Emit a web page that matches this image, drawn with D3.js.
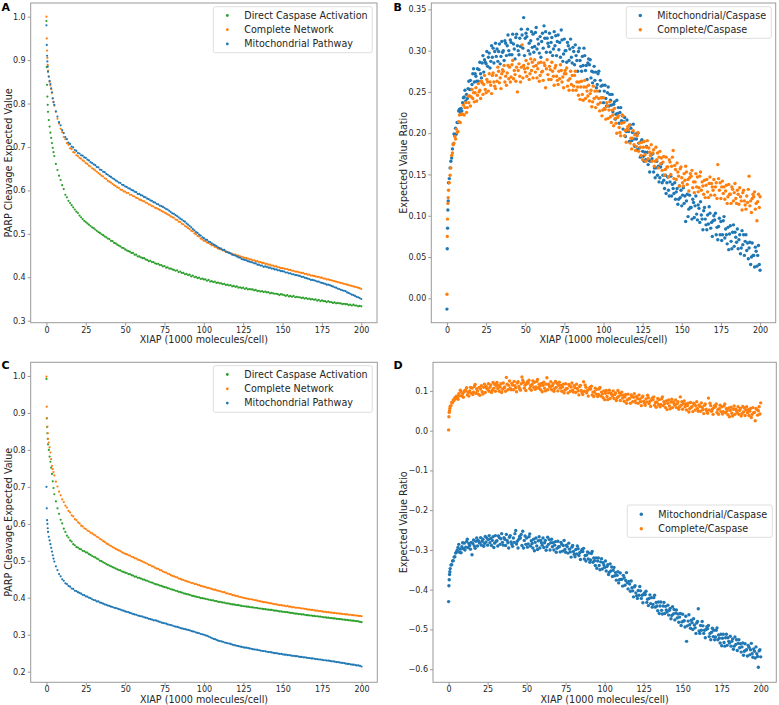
<!DOCTYPE html>
<html>
<head>
<meta charset="utf-8">
<script src="https://cdn.jsdelivr.net/npm/d3@7"></script>
<style>
  html, body { margin: 0; padding: 0; background: #fff; }
  svg { display: block; font-family: "DejaVu Sans", sans-serif; }
</style>
</head>
<body>
<svg id="chart" width="779" height="705"></svg>
<script>
// ---------------- DATA ----------------
// x grid (XIAP, 1000 molecules/cell) for panels A and C
const xsAC = [0,0.2,0.4,0.6,0.8,1,1.5,2,2.5,3,3.5,4,4.5].concat(d3.range(5, 201, 1));
// finer x grid for the noisier ratio panels B and D
const xsBD = [0,0.2,0.4,0.6,0.8].concat(d3.range(1, 200.25, 0.5));
const xTicks = [0,25,50,75,100,125,150,175,200];
const yTicksA = [0.3,0.4,0.5,0.6,0.7,0.8,0.9,1.0];
const yTicksB = [0.00,0.05,0.10,0.15,0.20,0.25,0.30,0.35];
const yTicksC = [0.2,0.3,0.4,0.5,0.6,0.7,0.8,0.9,1.0];
const yTicksD = [-0.6,-0.5,-0.4,-0.3,-0.2,-0.1,0.0,0.1];

const seriesNamesAC = ["Direct Caspase Activation","Complete Network","Mitochondrial Pathway"];
const seriesNamesBD = ["Mitochondrial/Caspase","Complete/Caspase"];

// Panel A
const directA = [.990,.884,.843,.816,.797,.781,.762,.747,.733,.721,.709,.698,.688,
.679,.661,.647,.634,.624,
.612,.603,.590,.584,.576,.571,.566,.561,.556,.551,
.548,.542,.538,.534,.530,.527,.524,.521,.518,.515,
.513,.510,.507,.504,.502,.499,.497,.494,.492,.489,
.488,.484,.483,.479,.478,.475,.473,.471,.468,.467,
.464,.462,.460,.459,.456,.456,.452,.452,.448,.448,
.446,.444,.444,.441,.440,.437,.438,.435,.435,.432,
.431,.431,.428,.428,.425,.426,.422,.423,.420,.420,
.418,.417,.415,.416,.412,.413,.410,.410,.407,.408,
.405,.406,.402,.404,.400,.401,.398,.399,.396,.397,
.395,.395,.392,.394,.390,.391,.389,.390,.387,.388,
.386,.386,.384,.385,.382,.383,.381,.382,.379,.380,
.378,.379,.376,.377,.375,.376,.373,.375,.372,.373,
.372,.372,.370,.371,.368,.369,.367,.368,.366,.367,
.365,.366,.363,.364,.363,.362,.362,.361,.359,.361,
.360,.359,.357,.359,.356,.357,.355,.357,.354,.355,
.354,.354,.352,.353,.351,.352,.350,.351,.349,.350,
.348,.349,.346,.348,.345,.347,.345,.345,.343,.345,
.343,.343,.341,.342,.340,.341,.340,.340,.338,.339,
.338,.338,.336,.337,.335,.337,.335,.335,.333,.334,
.333];
const completeA = [1.000,.950,.922,.905,.889,.876,.862,.850,.842,.833,.824,.812,.804,
.795,.781,.765,.754,.742,
.734,.723,.718,.709,.705,.697,.695,.688,.687,.681,
.679,.675,.673,.669,.667,.663,.661,.657,.655,.651,
.649,.646,.643,.640,.637,.634,.632,.628,.626,.622,
.620,.618,.615,.612,.610,.607,.606,.602,.601,.598,
.597,.594,.594,.590,.590,.587,.586,.583,.582,.579,
.578,.576,.575,.572,.571,.568,.567,.564,.563,.560,
.559,.557,.555,.553,.551,.549,.547,.545,.543,.540,
.538,.537,.533,.532,.528,.527,.523,.522,.518,.516,
.513,.511,.507,.506,.501,.499,.495,.494,.489,.487,
.484,.483,.480,.479,.476,.474,.473,.470,.469,.466,
.465,.464,.462,.461,.459,.458,.457,.455,.454,.452,
.452,.450,.450,.448,.447,.446,.445,.444,.443,.441,
.441,.439,.439,.437,.437,.435,.435,.433,.433,.431,
.431,.429,.429,.427,.427,.425,.425,.423,.423,.421,
.421,.420,.419,.419,.417,.417,.415,.415,.413,.413,
.412,.411,.410,.410,.408,.408,.406,.406,.404,.404,
.403,.402,.401,.401,.399,.399,.397,.397,.395,.395,
.394,.393,.392,.391,.390,.389,.388,.387,.386,.385,
.384,.383,.382,.381,.380,.379,.378,.377,.376,.375,
.373];
const mitoA = [.980,.935,.910,.897,.885,.873,.862,.852,.845,.835,.826,.812,.803,
.797,.782,.770,.757,.750,
.739,.732,.723,.718,.710,.707,.701,.699,.693,.691,
.686,.685,.681,.680,.676,.675,.671,.669,.665,.663,
.660,.658,.654,.653,.648,.647,.643,.642,.638,.636,
.633,.631,.628,.626,.623,.621,.618,.617,.613,.612,
.609,.608,.605,.604,.601,.600,.597,.596,.592,.592,
.589,.588,.585,.584,.581,.580,.577,.576,.573,.572,
.569,.568,.565,.564,.562,.560,.557,.556,.553,.550,
.547,.546,.543,.541,.538,.535,.533,.530,.528,.524,
.521,.518,.515,.511,.508,.504,.502,.498,.496,.492,
.490,.487,.486,.482,.481,.478,.476,.474,.472,.469,
.467,.466,.463,.463,.459,.458,.456,.455,.452,.451,
.450,.448,.446,.445,.442,.441,.440,.439,.437,.436,
.435,.434,.432,.432,.429,.429,.427,.427,.424,.425,
.424,.422,.422,.420,.420,.418,.418,.416,.416,.414,
.414,.413,.411,.411,.409,.409,.407,.407,.405,.405,
.404,.403,.401,.401,.399,.398,.397,.396,.394,.394,
.393,.392,.390,.390,.388,.387,.386,.385,.383,.383,
.382,.380,.379,.377,.376,.374,.373,.371,.370,.369,
.368,.365,.364,.362,.360,.359,.357,.355,.354,.352,
.350];

// Panel B (on xsBD)
const mitoB = [-.013,.060,.085,.107,.118,
.140,.145,.158,.166,.170,.181,.187,.199,.197,.206,
.199,.213,.213,.227,.229,.225,.230,.227,.237,.243,
.244,.252,.239,.247,.242,.254,.263,.253,.264,.253,
.259,.272,.278,.262,.272,.269,.263,.278,.263,.277,
.286,.272,.267,.285,.294,.274,.289,.286,.284,.299,
.281,.292,.297,.279,.287,.306,.292,.303,.285,.299,
.309,.293,.302,.287,.299,.308,.284,.293,.311,.298,
.300,.288,.312,.309,.294,.306,.319,.300,.295,.313,
.310,.295,.320,.308,.302,.290,.316,.320,.306,.300,
.295,.315,.305,.326,.319,.303,.340,.294,.315,.321,
.317,.326,.300,.309,.296,.312,.323,.304,.320,.298,
.305,.322,.328,.302,.314,.308,.297,.317,.292,.311,
.321,.303,.330,.315,.323,.298,.315,.309,.305,.321,
.298,.310,.316,.294,.302,.323,.306,.318,.294,.311,
.319,.301,.310,.292,.325,.313,.287,.296,.314,.300,
.300,.286,.310,.306,.288,.302,.314,.292,.285,.304,
.299,.283,.307,.294,.288,.275,.299,.303,.288,.281,
.275,.293,.282,.303,.294,.276,.282,.265,.285,.290,
.283,.289,.267,.275,.261,.274,.281,.264,.274,.255,
.259,.272,.275,.251,.264,.257,.243,.258,.237,.251,
.258,.242,.233,.249,.256,.233,.247,.240,.234,.247,
.226,.235,.238,.217,.223,.240,.224,.231,.212,.225,
.231,.215,.221,.205,.214,.219,.196,.202,.216,.203,
.202,.190,.210,.206,.191,.201,.211,.193,.184,.199,
.193,.180,.200,.188,.182,.171,.190,.192,.178,.172,
.166,.177,.168,.184,.177,.162,.167,.153,.166,.174,
.169,.175,.153,.158,.146,.158,.166,.149,.160,.141,
.146,.159,.163,.140,.149,.143,.133,.149,.127,.140,
.147,.131,.124,.141,.148,.124,.138,.133,.127,.140,
.120,.129,.133,.114,.120,.136,.122,.131,.112,.125,
.134,.115,.124,.093,.118,.126,.099,.108,.125,.110,
.110,.096,.120,.116,.098,.112,.124,.102,.095,.113,
.109,.092,.117,.101,.096,.083,.106,.110,.096,.089,
.083,.101,.090,.111,.103,.085,.092,.075,.094,.100,
.095,.103,.077,.086,.071,.087,.097,.077,.093,.070,
.077,.094,.099,.073,.084,.077,.066,.086,.059,.078,
.088,.069,.060,.080,.089,.063,.080,.074,.068,.084,
.060,.071,.077,.054,.061,.082,.065,.077,.052,.069,
.077,.058,.067,.048,.061,.068,.041,.050,.067,.052,
.052,.038,.062,.057,.039,.052,.064,.041,.034];
const completeB = [.005,.075,.096,.115,.122,
.131,.140,.149,.158,.173,.176,.186,.188,.196,.193,
.205,.201,.202,.214,.222,.213,.223,.223,.223,.234,
.222,.231,.237,.225,.231,.245,.237,.245,.233,.244,
.253,.242,.249,.238,.249,.255,.239,.246,.260,.250,
.252,.242,.263,.261,.247,.259,.270,.253,.249,.265,
.262,.251,.272,.262,.258,.248,.270,.273,.262,.257,
.254,.270,.263,.280,.275,.261,.267,.254,.272,.277,
.275,.282,.262,.269,.258,.273,.282,.266,.280,.262,
.268,.283,.288,.266,.276,.271,.263,.280,.250,.276,
.284,.269,.262,.280,.307,.267,.282,.278,.274,.288,
.269,.279,.284,.265,.272,.290,.276,.286,.267,.281,
.289,.274,.282,.267,.278,.285,.263,.270,.286,.274,
.275,.264,.285,.282,.255,.278,.289,.271,.265,.281,
.277,.265,.286,.275,.269,.258,.279,.282,.269,.264,
.259,.275,.266,.283,.276,.262,.268,.255,.272,.276,
.272,.279,.257,.264,.252,.266,.275,.259,.270,.252,
.257,.270,.275,.252,.262,.256,.246,.262,.241,.256,
.263,.247,.240,.256,.264,.242,.256,.251,.245,.258,
.239,.248,.252,.232,.238,.257,.242,.251,.231,.244,
.251,.235,.242,.227,.237,.243,.221,.228,.243,.230,
.229,.217,.237,.233,.218,.228,.238,.220,.213,.228,
.222,.209,.230,.218,.212,.200,.219,.221,.207,.201,
.197,.212,.222,.221,.213,.197,.203,.189,.205,.208,
.204,.210,.188,.194,.181,.194,.203,.186,.198,.179,
.184,.197,.201,.178,.188,.183,.173,.189,.168,.183,
.190,.174,.166,.183,.191,.169,.182,.177,.173,.186,
.166,.176,.180,.160,.166,.183,.168,.176,.158,.171,
.178,.163,.170,.155,.165,.172,.149,.156,.171,.159,
.159,.147,.168,.165,.150,.160,.171,.179,.145,.161,
.156,.144,.164,.153,.148,.136,.157,.159,.146,.140,
.136,.151,.143,.160,.153,.138,.144,.130,.146,.151,
.148,.155,.134,.141,.128,.141,.151,.135,.147,.129,
.134,.148,.153,.131,.141,.136,.126,.143,.122,.137,
.144,.129,.122,.139,.147,.125,.139,.135,.131,.144,
.125,.135,.140,.121,.162,.145,.131,.140,.121,.135,
.142,.127,.135,.120,.130,.137,.115,.123,.138,.126,
.126,.115,.135,.132,.118,.128,.139,.121,.115,.131,
.126,.114,.134,.123,.118,.107,.128,.131,.118,.113,
.108,.124,.116,.132,.148,.112,.118,.104,.121,.126,
.123,.129,.108,.115,.094,.117,.126,.110,.123];

// Panel C
const directC = [.992,.885,.862,.845,.830,.815,.800,.782,.768,.752,.735,.715,.697,
.680,.661,.642,.627,.611,
.601,.587,.578,.568,.563,.555,.552,.545,.542,.537,
.536,.532,.531,.527,.526,.523,.522,.518,.516,.513,
.511,.509,.506,.504,.500,.499,.496,.494,.491,.489,
.487,.485,.483,.481,.479,.477,.475,.474,.471,.470,
.468,.467,.464,.464,.461,.460,.457,.457,.454,.454,
.452,.450,.449,.447,.446,.444,.442,.441,.439,.437,
.436,.435,.433,.432,.430,.429,.428,.426,.425,.423,
.422,.421,.419,.418,.416,.415,.414,.412,.411,.410,
.409,.408,.406,.405,.404,.403,.402,.401,.399,.399,
.398,.397,.396,.395,.394,.393,.393,.391,.391,.389,
.389,.388,.387,.387,.385,.385,.384,.383,.382,.382,
.381,.380,.380,.379,.378,.377,.377,.376,.376,.375,
.374,.374,.373,.373,.372,.371,.371,.370,.369,.369,
.368,.368,.367,.367,.366,.365,.365,.364,.363,.363,
.362,.362,.361,.361,.360,.359,.359,.358,.357,.357,
.356,.356,.355,.355,.354,.353,.353,.352,.352,.351,
.351,.350,.350,.349,.349,.348,.347,.347,.346,.346,
.345,.345,.344,.344,.343,.343,.342,.342,.341,.341,
.340,.340,.339,.339,.338,.338,.337,.337,.336,.335,
.334];
const completeC = [.998,.917,.886,.863,.845,.830,.820,.807,.793,.775,.757,.748,.740,
.731,.714,.701,.687,.677,
.666,.659,.649,.644,.635,.631,.623,.620,.613,.610,
.604,.601,.595,.593,.588,.586,.582,.580,.576,.574,
.571,.569,.565,.563,.559,.557,.553,.551,.547,.545,
.542,.540,.537,.535,.532,.530,.528,.526,.523,.521,
.519,.518,.515,.514,.511,.510,.507,.506,.503,.502,
.500,.498,.496,.494,.492,.489,.488,.485,.484,.481,
.479,.478,.475,.474,.471,.469,.468,.465,.464,.461,
.459,.458,.456,.455,.452,.451,.449,.448,.446,.445,
.443,.442,.440,.440,.437,.437,.435,.434,.432,.431,
.430,.429,.427,.427,.425,.424,.422,.422,.420,.419,
.418,.417,.415,.415,.412,.412,.410,.410,.407,.407,
.405,.405,.403,.402,.401,.400,.399,.398,.397,.396,
.396,.395,.394,.393,.392,.391,.390,.389,.388,.388,
.387,.386,.385,.385,.383,.383,.382,.381,.380,.380,
.379,.379,.377,.378,.376,.376,.374,.375,.373,.373,
.373,.372,.371,.371,.370,.369,.368,.368,.367,.367,
.366,.365,.365,.364,.364,.363,.362,.362,.361,.361,
.360,.360,.359,.359,.358,.358,.357,.357,.356,.356,
.355,.355,.354,.354,.353,.353,.352,.352,.351,.351,
.350];
const mitoC = [.700,.642,.610,.600,.588,.578,.565,.555,.545,.535,.525,.515,.506,
.498,.485,.475,.464,.458,
.450,.446,.439,.437,.432,.430,.425,.424,.419,.418,
.415,.413,.411,.408,.407,.404,.403,.400,.399,.396,
.394,.393,.390,.390,.387,.386,.384,.382,.381,.379,
.378,.376,.375,.373,.372,.371,.369,.368,.366,.365,
.363,.362,.361,.359,.358,.356,.355,.354,.352,.351,
.350,.349,.347,.346,.345,.343,.342,.341,.339,.339,
.338,.336,.335,.333,.332,.331,.330,.328,.327,.326,
.325,.323,.322,.321,.320,.318,.317,.316,.315,.314,
.313,.312,.310,.309,.308,.306,.305,.304,.302,.301,
.300,.298,.297,.295,.293,.291,.289,.288,.286,.284,
.283,.282,.281,.279,.278,.277,.276,.275,.273,.272,
.271,.270,.269,.268,.267,.266,.265,.265,.264,.263,
.262,.261,.260,.260,.259,.258,.257,.256,.256,.255,
.254,.253,.253,.252,.251,.250,.250,.249,.248,.248,
.247,.246,.246,.245,.245,.244,.243,.243,.242,.242,
.241,.240,.240,.239,.239,.238,.237,.237,.236,.236,
.235,.234,.234,.233,.233,.232,.231,.231,.230,.230,
.229,.228,.228,.227,.226,.226,.225,.224,.224,.223,
.222,.221,.221,.220,.219,.219,.218,.217,.217,.216,
.214];

// Panel D (on xsBD)
const mitoD = [-.430,-.390,-.375,-.362,-.355,
-.347,-.338,-.337,-.328,-.327,-.318,-.317,-.308,-.306,-.301,
-.294,-.286,-.306,-.298,-.307,-.292,-.282,-.297,-.283,-.300,
-.293,-.279,-.273,-.294,-.284,-.289,-.298,-.281,-.312,-.284,
-.275,-.290,-.296,-.278,-.270,-.290,-.276,-.280,-.283,-.269,
-.288,-.278,-.273,-.291,-.284,-.266,-.280,-.270,-.288,-.274,
-.264,-.282,-.271,-.289,-.276,-.267,-.294,-.283,-.264,-.278,
-.277,-.290,-.265,-.269,-.286,-.272,-.259,-.281,-.288,-.269,
-.273,-.289,-.261,-.276,-.282,-.295,-.268,-.264,-.280,-.286,
-.291,-.270,-.281,-.259,-.251,-.285,-.278,-.295,-.273,-.266,
-.270,-.261,-.289,-.253,-.295,-.276,-.265,-.286,-.270,-.293,
-.285,-.267,-.260,-.290,-.277,-.284,-.295,-.273,-.302,-.281,
-.270,-.290,-.299,-.277,-.267,-.295,-.276,-.282,-.288,-.270,
-.294,-.282,-.276,-.301,-.292,-.268,-.286,-.274,-.300,-.282,
-.273,-.292,-.282,-.300,-.288,-.279,-.306,-.296,-.278,-.292,
-.292,-.305,-.281,-.286,-.303,-.289,-.276,-.299,-.306,-.288,
-.292,-.308,-.283,-.298,-.305,-.318,-.293,-.289,-.304,-.311,
-.317,-.299,-.310,-.290,-.297,-.314,-.307,-.324,-.304,-.299,
-.304,-.296,-.323,-.314,-.328,-.313,-.305,-.323,-.308,-.331,
-.325,-.309,-.304,-.331,-.320,-.327,-.339,-.320,-.346,-.328,
-.320,-.339,-.350,-.330,-.322,-.348,-.332,-.338,-.344,-.328,
-.353,-.342,-.337,-.362,-.356,-.335,-.353,-.343,-.367,-.351,
-.344,-.365,-.357,-.376,-.364,-.355,-.383,-.375,-.358,-.374,
-.374,-.391,-.364,-.370,-.389,-.377,-.357,-.383,-.398,-.379,
-.386,-.404,-.378,-.395,-.403,-.418,-.393,-.390,-.408,-.415,
-.422,-.402,-.414,-.392,-.403,-.422,-.414,-.433,-.412,-.408,
-.412,-.404,-.432,-.424,-.440,-.422,-.413,-.435,-.420,-.444,
-.437,-.420,-.414,-.444,-.432,-.441,-.453,-.431,-.460,-.441,
-.431,-.452,-.461,-.441,-.432,-.460,-.442,-.451,-.456,-.439,
-.464,-.452,-.447,-.473,-.465,-.443,-.461,-.450,-.476,-.459,
-.451,-.471,-.461,-.482,-.469,-.460,-.490,-.481,-.462,-.479,
-.478,-.494,-.467,-.530,-.491,-.479,-.463,-.488,-.497,-.477,
-.483,-.500,-.473,-.489,-.496,-.510,-.484,-.480,-.448,-.504,
-.510,-.490,-.502,-.480,-.491,-.510,-.502,-.521,-.500,-.493,
-.498,-.490,-.518,-.510,-.526,-.507,-.497,-.518,-.502,-.526,
-.519,-.502,-.496,-.526,-.514,-.522,-.534,-.512,-.541,-.522,
-.512,-.533,-.542,-.521,-.512,-.540,-.521,-.530,-.534,-.517,
-.542,-.530,-.524,-.550,-.542,-.519,-.538,-.526,-.553,-.535,
-.526,-.546,-.536,-.557,-.544,-.534,-.565,-.555,-.536,-.552,
-.551,-.567,-.540,-.545,-.564,-.551,-.535,-.561,-.570,-.549,
-.555,-.572,-.544,-.561,-.568,-.595,-.554,-.551,-.569];
const completeD = [.002,.035,.046,.050,.056,
.061,.063,.071,.070,.077,.076,.083,.081,.087,.084,
.079,.093,.088,.102,.098,.087,.093,.084,.098,.102,
.101,.108,.090,.096,.087,.100,.109,.094,.107,.091,
.097,.111,.116,.094,.105,.100,.092,.109,.089,.105,
.113,.098,.092,.109,.117,.096,.111,.107,.104,.118,
.099,.109,.115,.096,.102,.121,.107,.117,.099,.113,
.121,.106,.114,.099,.110,.118,.096,.104,.120,.108,
.110,.099,.134,.117,.103,.114,.125,.107,.103,.119,
.115,.103,.124,.113,.108,.098,.120,.123,.111,.106,
.102,.118,.135,.127,.121,.107,.114,.101,.118,.123,
.120,.127,.106,.113,.102,.116,.125,.109,.122,.104,
.110,.124,.129,.107,.117,.112,.103,.119,.098,.114,
.122,.107,.100,.117,.133,.103,.117,.113,.109,.123,
.103,.113,.118,.099,.106,.124,.109,.119,.100,.114,
.122,.107,.114,.099,.110,.117,.095,.102,.118,.106,
.106,.095,.116,.113,.099,.110,.120,.102,.097,.113,
.108,.096,.117,.106,.100,.090,.111,.114,.101,.096,
.091,.123,.099,.115,.109,.095,.101,.087,.104,.109,
.105,.112,.090,.097,.086,.098,.107,.092,.104,.086,
.091,.105,.109,.087,.097,.092,.083,.100,.078,.094,
.101,.086,.078,.095,.102,.081,.095,.091,.087,.100,
.081,.091,.095,.076,.083,.101,.086,.095,.076,.090,
.097,.082,.089,.074,.085,.091,.069,.077,.092,.080,
.081,.069,.090,.086,.073,.084,.093,.075,.070,.086,
.081,.069,.090,.079,.073,.063,.084,.087,.074,.069,
.064,.080,.072,.089,.083,.068,.074,.061,.077,.082,
.078,.085,.064,.071,.059,.072,.081,.066,.078,.060,
.066,.080,.085,.063,.073,.068,.058,.075,.053,.069,
.077,.062,.055,.072,.079,.058,.072,.068,.064,.077,
.058,.068,.073,.054,.060,.085,.064,.073,.054,.068,
.075,.060,.067,.052,.063,.069,.047,.055,.071,.059,
.060,.048,.069,.066,.052,.062,.073,.055,.049,.065,
.061,.049,.070,.059,.053,.043,.064,.067,.054,.049,
.044,.082,.052,.069,.063,.049,.054,.041,.058,.063,
.060,.067,.046,.053,.041,.055,.064,.048,.060,.042,
.048,.062,.067,.045,.055,.050,.040,.057,.035,.051,
.059,.044,.037,.054,.062,.041,.054,.050,.046,.060,
.041,.051,.056,.037,.043,.061,.047,.057,.038,.052,
.060,.045,.053,.038,.049,.056,.033,.041,.058,.045,
.046,.025,.056,.053,.039,.050,.060,.042,.070];

// ---------------- DRAWING ----------------
const C_BLUE = "#1f77b4", C_ORANGE = "#ff7f0e", C_GREEN = "#2ca02c";
const TEXT = "#262626", SPINE = "#9a9a9a";
const svg = d3.select("#chart");

function drawPanel(o) {
  const g = svg.append("g");
  const x = d3.scaleLinear().domain([-10, 210]).range([o.l, o.r]);
  const y = d3.scaleLinear().domain(o.yd).range([o.b, o.t]);

  // series
  o.series.forEach(s => {
    const n = Math.min(o.xs.length, s.values.length);
    const pts = d3.range(n).map(i => [o.xs[i], s.values[i]]);
    g.append("g").selectAll("circle").data(pts).join("circle")
      .attr("cx", d => x(d[0])).attr("cy", d => y(d[1]))
      .attr("r", o.pr).attr("fill", s.color);
  });

  // frame
  g.append("rect").attr("x", o.l).attr("y", o.t)
    .attr("width", o.r - o.l).attr("height", o.b - o.t)
    .attr("fill", "none").attr("stroke", SPINE).attr("stroke-width", 1);

  // axes
  const ax = g.append("g").attr("transform", `translate(0,${o.b})`)
    .call(d3.axisBottom(x).tickValues(xTicks).tickSize(3).tickPadding(1.5).tickFormat(d3.format("d")));
  const ay = g.append("g").attr("transform", `translate(${o.l},0)`)
    .call(d3.axisLeft(y).tickValues(o.yticks).tickSize(3).tickPadding(2).tickFormat(d3.format(o.yfmt)));
  [ax, ay].forEach(a => {
    a.select(".domain").remove();
    a.selectAll("line").attr("stroke", SPINE);
    a.selectAll("text").attr("fill", TEXT).style("font-size", "8px").style("font-family", "DejaVu Sans");
  });

  // axis labels
  g.append("text").attr("x", (o.l + o.r) / 2).attr("y", o.b + 20.5)
    .attr("text-anchor", "middle").attr("fill", TEXT).style("font-size", "9.6px")
    .text("XIAP (1000 molecules/cell)");
  g.append("text").attr("transform", `translate(${o.ylx},${(o.t + o.b) / 2}) rotate(-90)`)
    .attr("text-anchor", "middle").attr("dy", "0.35em").attr("fill", TEXT).style("font-size", "9.6px")
    .text(o.ylabel);

  // panel letter
  g.append("text").attr("x", o.letterX).attr("y", o.letterY)
    .attr("font-weight", "bold").attr("fill", "#000").style("font-size", "11px").text(o.letter);

  // legend
  const L = o.legend;
  const lg = g.append("g").attr("transform", `translate(${L.x},${L.y})`);
  lg.append("rect").attr("width", L.w).attr("height", L.h).attr("rx", 2)
    .attr("fill", "#fff").attr("fill-opacity", 0.8).attr("stroke", "#d6d6d6").attr("stroke-width", 0.8);
  L.items.forEach((it, i) => {
    const yy = L.row0 + i * L.dy;
    lg.append("circle").attr("cx", 14).attr("cy", yy).attr("r", L.mr).attr("fill", it.color);
    lg.append("text").attr("x", 31).attr("y", yy).attr("dy", "0.35em")
      .attr("fill", TEXT).style("font-size", "9.6px").text(it.name);
  });
}

// Panel A
drawPanel({
  l: 30.7, r: 377, t: 3, b: 322.7, yd: [0.2954, 1.0315], yticks: yTicksA, yfmt: ".1f", xs: xsAC,
  ylabel: "PARP Cleavage Expected Value", ylx: 8.5, letter: "A", letterX: 1.5, letterY: 11, pr: 1.1,
  series: [
    { values: directA, color: C_GREEN },
    { values: completeA, color: C_ORANGE },
    { values: mitoA, color: C_BLUE }
  ],
  legend: { x: 213.3, y: 6.7, w: 159, h: 46, row0: 8.8, dy: 14.2, mr: 1.4,
    items: [
      { name: seriesNamesAC[0], color: C_GREEN },
      { name: seriesNamesAC[1], color: C_ORANGE },
      { name: seriesNamesAC[2], color: C_BLUE }
    ] }
});

// Panel B
drawPanel({
  l: 431.3, r: 775.7, t: 3, b: 322.7, yd: [-0.0295, 0.3577], yticks: yTicksB, yfmt: ".2f", xs: xsBD,
  ylabel: "Expected Value Ratio", ylx: 404, letter: "B", letterX: 393.5, letterY: 11, pr: 1.7,
  series: [
    { values: mitoB, color: C_BLUE },
    { values: completeB, color: C_ORANGE }
  ],
  legend: { x: 626.3, y: 6.7, w: 145, h: 31.6, row0: 8.8, dy: 14.2, mr: 1.7,
    items: [
      { name: seriesNamesBD[0], color: C_BLUE },
      { name: seriesNamesBD[1], color: C_ORANGE }
    ] }
});

// Panel C
drawPanel({
  l: 30.7, r: 377.3, t: 362.3, b: 682.3, yd: [0.1713, 1.037], yticks: yTicksC, yfmt: ".1f", xs: xsAC,
  ylabel: "PARP Cleavage Expected Value", ylx: 8.5, letter: "C", letterX: 1.5, letterY: 368.5, pr: 1.1,
  series: [
    { values: directC, color: C_GREEN },
    { values: completeC, color: C_ORANGE },
    { values: mitoC, color: C_BLUE }
  ],
  legend: { x: 213.3, y: 365.7, w: 159, h: 46.6, row0: 8.8, dy: 14.3, mr: 1.4,
    items: [
      { name: seriesNamesAC[0], color: C_GREEN },
      { name: seriesNamesAC[1], color: C_ORANGE },
      { name: seriesNamesAC[2], color: C_BLUE }
    ] }
});

// Panel D
drawPanel({
  l: 433, r: 776.3, t: 362.3, b: 682.3, yd: [-0.633, 0.172], yticks: yTicksD, yfmt: ".1f", xs: xsBD,
  ylabel: "Expected Value Ratio", ylx: 404, letter: "D", letterX: 393.5, letterY: 368.5, pr: 1.7,
  series: [
    { values: mitoD, color: C_BLUE },
    { values: completeD, color: C_ORANGE }
  ],
  legend: { x: 627.3, y: 505, w: 145, h: 32.3, row0: 9.3, dy: 14.4, mr: 1.7,
    items: [
      { name: seriesNamesBD[0], color: C_BLUE },
      { name: seriesNamesBD[1], color: C_ORANGE }
    ] }
});
</script>
</body>
</html>
